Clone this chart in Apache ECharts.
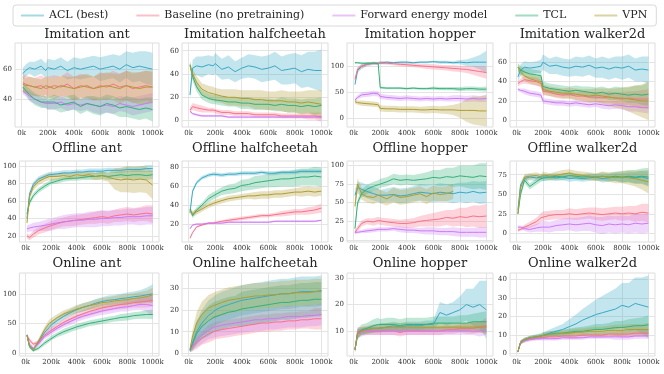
<!DOCTYPE html>
<html>
<head>
<meta charset="utf-8">
<script src="https://cdn.jsdelivr.net/npm/echarts@6/dist/echarts.min.js"></script>
<style>
  html, body { margin: 0; padding: 0; background: #fff; }
  #chart { width: 664px; height: 374px; }
</style>
</head>
<body>
<div id="chart"></div>
<script>
// training steps (k) at which every curve is sampled
var steps = [10, 30, 60, 100, 150, 185, 200, 250, 300, 350, 400, 450, 500, 550, 600, 650, 700, 750, 800, 850, 900, 950, 1000];
var methods = ['ACL (best)', 'Baseline (no pretraining)', 'Forward energy model', 'TCL', 'VPN'];
var colors = ['#38a9c5', '#f77189', '#cc7af4', '#33b07a', '#ae9d31'];
var xTicks = [0, 200, 400, 600, 800, 1000];

// each panel: one row per method, same order as `methods`; spread = half width of the band
var imitAntMean = [
  [57, 59, 61, 60, 62, 59, 61, 60, 62, 59, 61, 60, 61, 62, 60, 61, 62, 60, 63, 61, 62, 61, 60],
  [51, 50, 49, 48, 49, 47, 48, 49, 48, 50, 47, 49, 48, 47, 49, 48, 50, 48, 49, 47, 48, 49, 48],
  [45, 44, 42, 40, 38, 37, 36, 37, 38, 36, 37, 36, 37, 36, 35, 36, 35, 37, 36, 35, 36, 37, 38],
  [48, 46, 43, 40, 38, 38, 37, 38, 36, 37, 38, 35, 37, 36, 35, 37, 36, 34, 35, 34, 33, 34, 33],
  [50, 49, 49, 48, 47, 49, 48, 47, 49, 48, 47, 48, 49, 47, 48, 49, 48, 47, 49, 48, 47, 48, 48]
];
var imitAntSpread = [
  [4, 4, 4, 5, 5, 5, 6, 6, 6, 6, 7, 7, 7, 7, 8, 8, 8, 9, 9, 10, 10, 11, 11],
  [6, 6, 6, 6, 7, 7, 7, 7, 7, 8, 8, 8, 8, 8, 9, 9, 9, 9, 10, 10, 10, 10, 10],
  [2, 2, 3, 3, 3, 3, 3, 4, 4, 4, 4, 4, 4, 5, 5, 5, 5, 5, 5, 6, 6, 6, 6],
  [3, 3, 4, 4, 4, 4, 4, 5, 5, 5, 5, 5, 5, 6, 6, 6, 6, 6, 7, 7, 7, 7, 8],
  [5, 5, 6, 6, 6, 6, 7, 7, 7, 7, 8, 8, 8, 8, 9, 9, 9, 10, 10, 10, 11, 11, 11]
];

var imitHalfMean = [
  [22, 45, 47, 46, 48, 47, 49, 44, 46, 42, 45, 47, 46, 44, 45, 47, 43, 44, 45, 42, 44, 43, 43],
  [9, 12, 11, 10, 9, 9, 8, 7, 7, 6, 6, 6, 5, 5, 5, 5, 4, 4, 4, 4, 4, 4, 3],
  [8, 6, 5, 4, 4, 4, 4, 4, 3, 3, 3, 3, 3, 3, 3, 3, 3, 3, 3, 3, 3, 3, 3],
  [48, 38, 29, 22, 19, 18, 18, 17, 16, 16, 15, 15, 14, 14, 14, 13, 14, 13, 13, 12, 13, 12, 13],
  [47, 40, 33, 27, 24, 23, 22, 21, 20, 20, 19, 19, 18, 18, 17, 17, 17, 16, 16, 15, 16, 15, 14]
];
var imitHalfSpread = [
  [3, 7, 8, 9, 8, 8, 9, 9, 10, 9, 9, 10, 10, 11, 11, 12, 12, 13, 13, 14, 15, 16, 18],
  [2, 3, 3, 3, 2, 2, 2, 2, 2, 2, 2, 2, 2, 2, 2, 2, 2, 2, 2, 2, 3, 3, 4],
  [1, 1, 1, 1, 1, 1, 1, 1, 1, 1, 1, 1, 1, 1, 1, 1, 1, 1, 1, 1, 1, 1, 2],
  [3, 4, 4, 4, 4, 4, 4, 4, 4, 4, 5, 5, 5, 5, 5, 5, 6, 6, 6, 6, 6, 7, 7],
  [3, 4, 5, 5, 6, 6, 6, 6, 7, 7, 7, 7, 8, 8, 8, 8, 9, 9, 9, 10, 10, 11, 12]
];

var imitHopMean = [
  [65, 92, 100, 104, 106, 106, 108, 108, 107, 108, 108, 107, 108, 108, 109, 108, 108, 107, 108, 107, 108, 108, 108],
  [75, 95, 100, 104, 106, 106, 107, 106, 105, 104, 103, 102, 101, 100, 99, 98, 97, 96, 95, 94, 92, 90, 88],
  [35, 40, 45, 46, 48, 47, 42, 40, 39, 38, 39, 38, 37, 38, 37, 38, 37, 38, 38, 37, 38, 37, 38],
  [107, 107, 106, 106, 106, 105, 59, 58, 58, 58, 57, 58, 57, 57, 58, 57, 57, 57, 56, 57, 57, 56, 56],
  [32, 30, 29, 28, 27, 26, 19, 18, 18, 17, 17, 17, 16, 16, 17, 16, 16, 16, 15, 15, 15, 14, 14]
];
var imitHopSpread = [
  [3, 5, 5, 4, 3, 2, 2, 2, 2, 2, 2, 2, 2, 2, 2, 3, 3, 3, 4, 6, 9, 14, 22],
  [3, 4, 4, 3, 3, 3, 3, 3, 3, 4, 4, 4, 4, 5, 5, 5, 5, 6, 6, 7, 8, 10, 12],
  [4, 4, 5, 5, 5, 5, 5, 5, 5, 5, 5, 5, 5, 5, 5, 5, 5, 6, 6, 6, 6, 6, 7],
  [2, 2, 2, 2, 2, 2, 2, 2, 2, 2, 2, 2, 2, 2, 3, 3, 3, 3, 4, 4, 4, 4, 5],
  [4, 4, 5, 5, 5, 5, 6, 6, 6, 6, 6, 6, 6, 7, 7, 7, 8, 10, 14, 22, 27, 28, 30]
];

var imitWalkMean = [
  [45, 52, 55, 54, 55, 56, 60, 56, 57, 55, 54, 56, 55, 57, 54, 55, 53, 55, 54, 56, 52, 53, 52],
  [38, 40, 42, 41, 40, 38, 30, 29, 27, 26, 27, 25, 25, 24, 24, 23, 24, 23, 22, 23, 22, 22, 22],
  [32, 31, 30, 28, 27, 26, 20, 19, 18, 18, 17, 18, 17, 16, 17, 16, 15, 16, 15, 14, 14, 13, 13],
  [55, 52, 50, 48, 47, 46, 35, 33, 32, 31, 30, 31, 30, 29, 28, 29, 27, 28, 27, 26, 27, 26, 27],
  [55, 50, 46, 43, 41, 40, 32, 30, 29, 28, 28, 27, 26, 25, 26, 25, 24, 23, 23, 22, 21, 20, 20]
];
var imitWalkSpread = [
  [5, 6, 6, 6, 6, 7, 8, 8, 9, 9, 9, 10, 10, 10, 10, 11, 11, 11, 12, 12, 12, 13, 14],
  [3, 3, 4, 4, 4, 4, 4, 4, 4, 4, 4, 4, 5, 5, 5, 5, 6, 6, 7, 7, 8, 9, 10],
  [2, 2, 3, 3, 3, 3, 3, 3, 3, 3, 3, 3, 3, 3, 3, 4, 4, 4, 4, 5, 5, 5, 6],
  [4, 4, 5, 5, 5, 5, 5, 5, 5, 5, 5, 5, 5, 6, 6, 6, 6, 7, 7, 8, 9, 10, 12],
  [4, 4, 5, 5, 5, 5, 5, 5, 5, 5, 6, 6, 6, 7, 7, 8, 9, 10, 11, 13, 15, 17, 20]
];

var offAntMean = [
  [40, 68, 79, 85, 88, 90, 90, 91, 92, 92, 93, 93, 94, 94, 94, 95, 95, 95, 96, 96, 96, 97, 97],
  [20, 18, 22, 26, 29, 31, 32, 34, 36, 37, 38, 39, 40, 41, 42, 41, 43, 44, 45, 44, 45, 46, 45],
  [28, 29, 30, 31, 32, 33, 33, 35, 36, 37, 38, 38, 39, 39, 40, 40, 41, 41, 42, 42, 42, 43, 43],
  [45, 58, 66, 72, 77, 80, 82, 83, 85, 86, 86, 87, 88, 88, 89, 88, 89, 90, 89, 90, 90, 89, 90],
  [35, 65, 76, 82, 86, 88, 87, 88, 89, 88, 90, 89, 90, 88, 89, 87, 85, 84, 85, 84, 85, 84, 78]
];
var offAntSpread = [
  [3, 3, 3, 3, 3, 3, 3, 3, 3, 3, 3, 3, 3, 3, 3, 3, 3, 3, 3, 3, 3, 4, 4],
  [3, 3, 4, 4, 5, 5, 5, 5, 5, 6, 6, 6, 6, 7, 7, 7, 7, 8, 8, 8, 8, 9, 10],
  [4, 4, 5, 5, 6, 7, 7, 7, 8, 8, 8, 8, 9, 9, 9, 9, 9, 9, 9, 9, 10, 10, 10],
  [3, 3, 3, 3, 3, 3, 3, 3, 3, 3, 3, 3, 4, 4, 4, 4, 4, 4, 5, 5, 5, 5, 5],
  [3, 4, 4, 4, 4, 4, 4, 4, 4, 4, 4, 4, 4, 4, 5, 5, 12, 14, 15, 15, 15, 15, 16]
];

var offHalfMean = [
  [32, 55, 64, 69, 72, 73, 73, 72, 73, 73, 74, 74, 74, 75, 74, 74, 75, 75, 75, 76, 76, 76, 76],
  [5, 11, 17, 19, 21, 21, 22, 23, 24, 25, 26, 27, 28, 29, 29, 30, 31, 32, 33, 33, 34, 35, 37],
  [15, 19, 20, 20, 21, 21, 21, 21, 22, 22, 22, 22, 22, 22, 22, 23, 23, 23, 23, 23, 23, 23, 24],
  [36, 29, 35, 40, 47, 50, 51, 55, 57, 58, 61, 62, 64, 65, 66, 67, 68, 68, 69, 70, 70, 71, 70],
  [35, 31, 33, 36, 40, 42, 43, 45, 47, 48, 49, 50, 50, 51, 51, 52, 52, 53, 54, 54, 55, 54, 55]
];
var offHalfSpread = [
  [2, 2, 2, 2, 2, 2, 2, 2, 2, 2, 2, 2, 2, 2, 2, 2, 2, 2, 2, 2, 2, 2, 2],
  [1, 1, 1, 1, 1, 1, 1, 1, 2, 2, 2, 2, 2, 2, 2, 2, 3, 3, 3, 3, 4, 4, 5],
  [1, 1, 1, 1, 1, 1, 1, 1, 1, 1, 1, 1, 1, 1, 1, 1, 1, 1, 1, 1, 1, 1, 1],
  [3, 3, 3, 3, 4, 4, 4, 4, 5, 5, 6, 6, 7, 7, 7, 8, 8, 8, 9, 9, 9, 10, 10],
  [3, 3, 3, 3, 3, 3, 3, 3, 3, 3, 3, 3, 4, 4, 4, 4, 4, 4, 4, 5, 5, 5, 5]
];

var offHopMean = [
  [60, 70, 68, 65, 62, 60, 58, 60, 61, 59, 60, 62, 64, 63, 62, 64, 63, 62, 64, 63, 65, 63, 64],
  [10, 15, 22, 25, 24, 26, 25, 24, 23, 22, 22, 23, 25, 26, 27, 28, 30, 29, 31, 30, 32, 31, 32],
  [10, 10, 11, 12, 13, 14, 14, 14, 15, 14, 13, 13, 12, 12, 12, 11, 11, 11, 10, 10, 10, 10, 10],
  [15, 50, 62, 68, 72, 74, 76, 78, 82, 80, 81, 80, 81, 82, 84, 83, 85, 84, 86, 85, 84, 86, 85],
  [45, 75, 62, 58, 57, 60, 58, 55, 60, 57, 58, 60, 62, 58, 63, 61, 62, 65, null, null, null, null, null]
];
var offHopSpread = [
  [8, 8, 9, 9, 9, 9, 9, 9, 10, 10, 10, 10, 11, 11, 12, 12, 12, 13, 13, 14, 14, 15, 15],
  [3, 4, 4, 4, 5, 5, 5, 5, 5, 5, 6, 6, 7, 8, 9, 10, 10, 11, 12, 13, 14, 15, 16],
  [2, 2, 2, 3, 3, 3, 3, 3, 3, 4, 4, 4, 4, 5, 5, 5, 5, 6, 6, 6, 6, 7, 7],
  [5, 5, 5, 6, 6, 6, 6, 6, 7, 7, 7, 7, 8, 9, 10, 11, 12, 13, 14, 15, 16, 17, 18],
  [8, 8, 8, 8, 9, 9, 9, 9, 10, 10, 10, 10, 10, 10, 10, 10, 10, 10, null, null, null, null, null]
];

var offWalkMean = [
  [30, 62, 70, 72, 71, 72, 71, 72, 71, 72, 70, 71, 70, 71, 72, 70, 71, 72, 71, 72, 71, 72, 70],
  [4, 5, 8, 11, 15, 20, 22, 23, 24, 24, 25, 24, 25, 26, 25, 24, 25, 26, 25, 26, 25, 27, 26],
  [8, 8, 6, 5, 7, 8, 9, 8, 10, 11, 12, 11, 12, 13, 11, 10, 12, 11, 12, 11, 13, 12, 13],
  [25, 50, 68, 60, 66, 70, 71, 72, 73, 72, 74, 73, 72, 73, 72, 73, 72, 73, 72, 73, 72, 73, 72],
  [25, 58, 72, 73, 74, 72, 75, 73, 74, 76, 77, 75, 74, 73, 72, 73, 72, 71, 72, 71, 70, 68, 66]
];
var offWalkSpread = [
  [3, 4, 4, 4, 4, 4, 4, 4, 4, 4, 4, 4, 4, 4, 4, 5, 5, 5, 6, 6, 7, 8, 9],
  [2, 2, 3, 4, 5, 6, 6, 6, 6, 6, 7, 7, 7, 7, 8, 8, 8, 8, 9, 9, 10, 11, 12],
  [2, 2, 3, 4, 5, 6, 7, 7, 7, 8, 8, 9, 9, 10, 10, 11, 11, 11, 11, 11, 12, 12, 12],
  [3, 4, 4, 4, 4, 4, 4, 4, 4, 4, 4, 4, 4, 4, 4, 5, 5, 6, 7, 8, 9, 10, 12],
  [3, 4, 4, 4, 4, 4, 4, 4, 5, 5, 5, 5, 5, 5, 5, 6, 6, 7, 8, 9, 10, 12, 15]
];

var onAntMean = [
  [30, 12, 6, 18, 35, 43, 47, 55, 62, 68, 73, 77, 80, 84, 87, 89, 90, 92, 93, 95, 96, 98, 100],
  [30, 22, 15, 18, 30, 36, 39, 45, 52, 57, 62, 66, 70, 73, 76, 78, 80, 82, 83, 85, 86, 87, 89],
  [30, 15, 8, 15, 28, 33, 36, 42, 48, 53, 58, 62, 65, 68, 71, 73, 75, 77, 78, 80, 82, 82, 80],
  [30, 10, 4, 8, 17, 22, 25, 31, 36, 40, 44, 47, 50, 52, 54, 56, 58, 60, 61, 63, 64, 65, 65],
  [30, 12, 5, 20, 40, 50, 53, 60, 66, 70, 74, 77, 80, 82, 85, 86, 88, 89, 90, 92, 93, 95, 98]
];
var onAntSpread = [
  [3, 3, 3, 4, 5, 5, 6, 6, 6, 6, 6, 7, 7, 7, 7, 8, 8, 8, 9, 9, 10, 12, 16],
  [3, 3, 3, 4, 4, 5, 5, 5, 6, 6, 6, 6, 7, 7, 7, 7, 7, 8, 8, 8, 9, 10, 10],
  [3, 3, 3, 4, 4, 5, 5, 5, 5, 6, 6, 6, 6, 6, 7, 7, 7, 7, 8, 8, 9, 12, 18],
  [3, 2, 2, 3, 4, 4, 4, 4, 5, 5, 5, 5, 5, 5, 5, 5, 5, 6, 6, 6, 6, 7, 8],
  [3, 3, 3, 4, 5, 6, 6, 6, 6, 6, 7, 7, 7, 8, 8, 8, 8, 9, 9, 9, 10, 10, 12]
];

var onHalfMean = [
  [1.5, 5, 10, 14, 17.5, 19, 20, 21.5, 22.5, 23.5, 24.5, 25, 25.5, 26, 26.5, 27, 27.5, 27.5, 28, 28.5, 28.5, 28.5, 29],
  [1.5, 3, 5, 7, 9, 10, 10.5, 11, 11.5, 12, 12.5, 13, 13.5, 14, 14, 14.5, 14.5, 15, 15, 15.5, 15.5, 16, 16],
  [1.5, 3.5, 6, 8.5, 10.5, 12, 12.5, 13, 13.5, 14, 14.5, 15, 15.5, 15.5, 16, 16, 16.5, 17, 17, 17, 17.5, 17.5, 18],
  [1.5, 4.5, 9, 12.5, 15, 16.5, 17, 18, 19, 19.5, 20.5, 21, 21.5, 22, 22.5, 23, 23.5, 23.5, 24, 24.5, 24.5, 25, 25],
  [2, 8, 14, 18, 21, 22, 22.5, 23.5, 24.5, 25, 25.5, 26, 26.5, 26.5, 27, 27, 27.5, 27.5, 28, 28, 28, 28.5, 28.5]
];
var onHalfSpread = [
  [1, 3, 5, 6, 7, 7, 7, 7, 7, 7, 7, 7, 7, 7, 7, 7, 7, 7, 7, 7, 7, 7, 7],
  [1, 2, 3, 3, 4, 4, 4, 4, 4, 4, 4, 4, 4, 4, 4, 4, 4, 4, 4, 4, 4, 5, 5],
  [1, 2, 3, 4, 4, 5, 5, 5, 5, 5, 5, 5, 5, 5, 5, 5, 5, 5, 5, 5, 5, 5, 5],
  [1, 3, 5, 6, 7, 7, 7, 7, 7, 7, 8, 8, 8, 8, 8, 8, 8, 8, 8, 8, 8, 8, 8],
  [1, 3, 5, 6, 6, 6, 6, 6, 6, 6, 6, 6, 6, 6, 6, 6, 6, 6, 6, 6, 6, 6, 6]
];

var onHopMean = [
  [3, 9, 10, 10.5, 11, 11, 11.5, 11.5, 12, 11.5, 12, 12, 12, 12.5, 12.5, 17, 16, 17, 18, 20, 19, 20, 18],
  [3, 10, 10, 10, 10, 10, 10, 10, 10, 9.5, 10, 10, 10, 10, 10, 10, 10.5, 10.5, 11, 11, 11, 11.5, 12],
  [3, 9, 9.5, 10, 10, 10, 10, 10, 10, 10, 10, 10, 10, 10, 10, 10, 10, 10, 10, 10, 10, 10, 10.5],
  [3, 9, 10.5, 11, 12, 12.5, 12, 12.5, 12.5, 12, 12.5, 12.5, 12.5, 12.5, 13, 13, 13, 13, 13, 13, 13.5, 13.5, 13.5],
  [3, 9, 10, 10.5, 11, 11, 11, 11.5, 11.5, 11.5, 11.5, 11.5, 11.5, 11.5, 11.5, 11.5, 11.5, 11.5, 11.5, 11.5, 11.5, 11.5, 11.5]
];
var onHopSpread = [
  [1, 2, 1, 1, 1.5, 1.5, 1.5, 1.5, 1.5, 1.5, 1.5, 1.5, 1.5, 1.5, 1.5, 4, 4, 4, 5, 6, 7, 9, 11],
  [1, 1.5, 1.5, 1.5, 1.5, 1.5, 1.5, 1.5, 1.5, 1.5, 1.5, 1.5, 1.5, 1.5, 1.5, 1.5, 1.5, 1.5, 1.5, 2, 2, 2, 3],
  [1, 1.5, 1.5, 1.5, 1.5, 1.5, 1.5, 1.5, 1.5, 1.5, 1.5, 1.5, 1.5, 1.5, 1.5, 1.5, 1.5, 1.5, 1.5, 1.5, 1.5, 2, 2],
  [1, 2, 2, 2, 2.5, 2.5, 2.5, 2.5, 2.5, 2.5, 2.5, 2.5, 2.5, 2.5, 2.5, 2.5, 2.5, 2.5, 3, 3, 3, 3.5, 4],
  [1, 1.5, 1.5, 1.5, 1.5, 1.5, 1.5, 1.5, 1.5, 1.5, 1.5, 1.5, 1.5, 1.5, 1.5, 1.5, 1.5, 1.5, 1.5, 1.5, 2, 2, 2.5]
];

var onWalkMean = [
  [1, 6, 7.5, 8.5, 9, 9.5, 10, 11, 12, 13, 14.5, 16, 18, 19.5, 21, 22, 23, 24, 26, 25, 27, 26, 25],
  [1, 6, 7, 8, 8.5, 8.5, 9, 9, 9, 9.5, 9.5, 9.5, 10, 10, 10, 10, 10.5, 10.5, 10.5, 10.5, 11, 11, 11],
  [1, 6, 7, 7.5, 8, 8, 8, 8, 8, 8.5, 8.5, 8.5, 8.5, 9, 9, 9, 9, 9, 9, 9, 9.5, 9.5, 9.5],
  [1, 6, 7.5, 8.5, 9, 9.5, 10, 10.5, 11, 11, 11.5, 12, 12, 12.5, 13, 13, 13.5, 14, 14, 14.5, 15, 15, 15.5],
  [1, 6, 7.5, 8.5, 9, 9.5, 10, 10.5, 10.5, 11, 11, 11.5, 11.5, 12, 12, 12, 12.5, 12.5, 12.5, 13, 13, 13, 13]
];
var onWalkSpread = [
  [0.5, 1, 1, 1, 1.5, 1.5, 1.5, 2, 2.5, 3, 4, 5, 6, 7, 8, 9, 10, 11, 12, 13, 14, 15, 17],
  [0.5, 1, 1, 1, 1, 1, 1, 1, 1, 1, 1.5, 1.5, 1.5, 1.5, 1.5, 1.5, 1.5, 1.5, 2, 2, 2, 2, 2],
  [0.5, 1, 1, 1, 1, 1, 1, 1, 1, 1, 1, 1, 1, 1, 1, 1, 1, 1.5, 1.5, 1.5, 1.5, 1.5, 1.5],
  [0.5, 1, 1, 1, 1, 1, 1.5, 1.5, 1.5, 2, 2, 2, 2.5, 2.5, 3, 3, 3, 3.5, 3.5, 4, 4, 4.5, 5],
  [0.5, 1, 1, 1, 1, 1, 1, 1.5, 1.5, 1.5, 2, 2, 2, 2, 2.5, 2.5, 2.5, 3, 3, 3, 3, 3, 3.5]
];

var panels = [
  { title: 'Imitation ant', mean: imitAntMean, spread: imitAntSpread, yMin: 21.3, yMax: 77.5, yTicks: [40, 60] },
  { title: 'Imitation halfcheetah', mean: imitHalfMean, spread: imitHalfSpread, yMin: -5.5, yMax: 66.6, yTicks: [0, 20, 40, 60] },
  { title: 'Imitation hopper', mean: imitHopMean, spread: imitHopSpread, yMin: -17, yMax: 145, yTicks: [0, 50, 100] },
  { title: 'Imitation walker2d', mean: imitWalkMean, spread: imitWalkSpread, yMin: -7, yMax: 80, yTicks: [0, 20, 40, 60] },
  { title: 'Offline ant', mean: offAntMean, spread: offAntSpread, yMin: 13, yMax: 105.7, yTicks: [20, 40, 60, 80, 100] },
  { title: 'Offline halfcheetah', mean: offHalfMean, spread: offHalfSpread, yMin: 1, yMax: 87, yTicks: [20, 40, 60, 80] },
  { title: 'Offline hopper', mean: offHopMean, spread: offHopSpread, yMin: -3, yMax: 106, yTicks: [0, 25, 50, 75, 100] },
  { title: 'Offline walker2d', mean: offWalkMean, spread: offWalkSpread, yMin: -11, yMax: 92.5, yTicks: [0, 25, 50, 75] },
  { title: 'Online ant', mean: onAntMean, spread: onAntSpread, yMin: -5, yMax: 135, yTicks: [0, 50, 100] },
  { title: 'Online halfcheetah', mean: onHalfMean, spread: onHalfSpread, yMin: -1.2, yMax: 37.1, yTicks: [0, 10, 20, 30] },
  { title: 'Online hopper', mean: onHopMean, spread: onHopSpread, yMin: 0.6, yMax: 31.9, yTicks: [10, 20, 30] },
  { title: 'Online walker2d', mean: onWalkMean, spread: onWalkSpread, yMin: -1.3, yMax: 43.4, yTicks: [0, 10, 20, 30, 40] }
];

var colLeft = [15, 182, 347, 510];
var colWidth = [144, 146, 146, 145];
var rowTop = [43, 161, 273];
var rowHeight = [84, 81, 83];
var titleTop = [28, 142, 257];
var font = 'DejaVu Serif';

// band polygon: upper edge left->right, lower edge right->left
function makeBandRenderer(color) {
  return function (params, api) {
    if (params.dataIndexInside !== 0) return null;
    var top = [], bottom = [];
    for (var j = 0; j < steps.length; j++) {
      var lo = api.value(1, j), hi = api.value(2, j);
      if (isNaN(lo) || isNaN(hi)) continue;
      top.push(api.coord([api.value(0, j), hi]));
      bottom.unshift(api.coord([api.value(0, j), lo]));
    }
    return {
      type: 'polygon',
      shape: { points: top.concat(bottom) },
      style: { fill: color, opacity: 0.3 }
    };
  };
}

var chart = echarts.init(document.getElementById('chart'));

var option = {
  animation: false,
  backgroundColor: '#fff',
  textStyle: { fontFamily: font },
  legend: {
    left: 13,
    top: 5,
    padding: [5, 9, 5, 8],
    borderColor: '#d9d9d9',
    borderWidth: 1,
    borderRadius: 3,
    itemGap: 28,
    itemWidth: 23,
    itemHeight: 2,
    icon: 'rect',
    textStyle: { fontFamily: font, fontSize: 11, color: '#262626' },
    data: methods.map(function (name, k) {
      return { name: name, itemStyle: { color: colors[k], opacity: 0.45 } };
    })
  },
  title: [],
  grid: [],
  xAxis: [],
  yAxis: [],
  series: []
};

panels.forEach(function (p, i) {
  var col = i % 4, row = Math.floor(i / 4);
  option.grid.push({
    left: colLeft[col], top: rowTop[row], width: colWidth[col], height: rowHeight[row],
    show: true, borderColor: '#dddddd', borderWidth: 1, backgroundColor: 'transparent'
  });
  option.title.push({
    text: p.title,
    left: colLeft[col] + colWidth[col] / 2,
    top: titleTop[row],
    textAlign: 'center',
    padding: 0,
    textStyle: { fontFamily: font, fontSize: 13, fontWeight: 'normal', color: '#262626' }
  });
  option.xAxis.push({
    type: 'value', gridIndex: i, min: -50, max: 1050,
    axisLine: { show: false },
    axisTick: { show: false, customValues: xTicks },
    axisLabel: {
      customValues: xTicks, margin: 3, fontSize: 7, color: '#333', fontFamily: font,
      formatter: function (v) { return v + 'k'; }
    },
    splitLine: { show: true, lineStyle: { color: '#e4e4e4', width: 1 } }
  });
  option.yAxis.push({
    type: 'value', gridIndex: i, min: p.yMin, max: p.yMax,
    axisLine: { show: false },
    axisTick: { show: false, customValues: p.yTicks },
    axisLabel: { customValues: p.yTicks, margin: 3, fontSize: 7, color: '#333', fontFamily: font },
    splitLine: { show: true, lineStyle: { color: '#e4e4e4', width: 1 } }
  });

  p.mean.forEach(function (m, k) {
    var band = [], line = [];
    steps.forEach(function (x, j) {
      var v = m[j], s = p.spread[k][j];
      line.push([x, v]);
      band.push(v == null ? [x, null, null] : [x, v - s, v + s]);
    });
    option.series.push({
      type: 'custom', name: 'band', xAxisIndex: i, yAxisIndex: i, data: band,
      encode: { x: 0, y: [1, 2] }, clip: true, silent: true, z: 1,
      renderItem: makeBandRenderer(colors[k])
    });
    option.series.push({
      type: 'line', name: methods[k], xAxisIndex: i, yAxisIndex: i, data: line,
      symbol: 'none', z: 3,
      itemStyle: { color: colors[k] },
      lineStyle: { color: colors[k], width: 1 }
    });
  });
});

chart.setOption(option);
</script>
</body>
</html>
